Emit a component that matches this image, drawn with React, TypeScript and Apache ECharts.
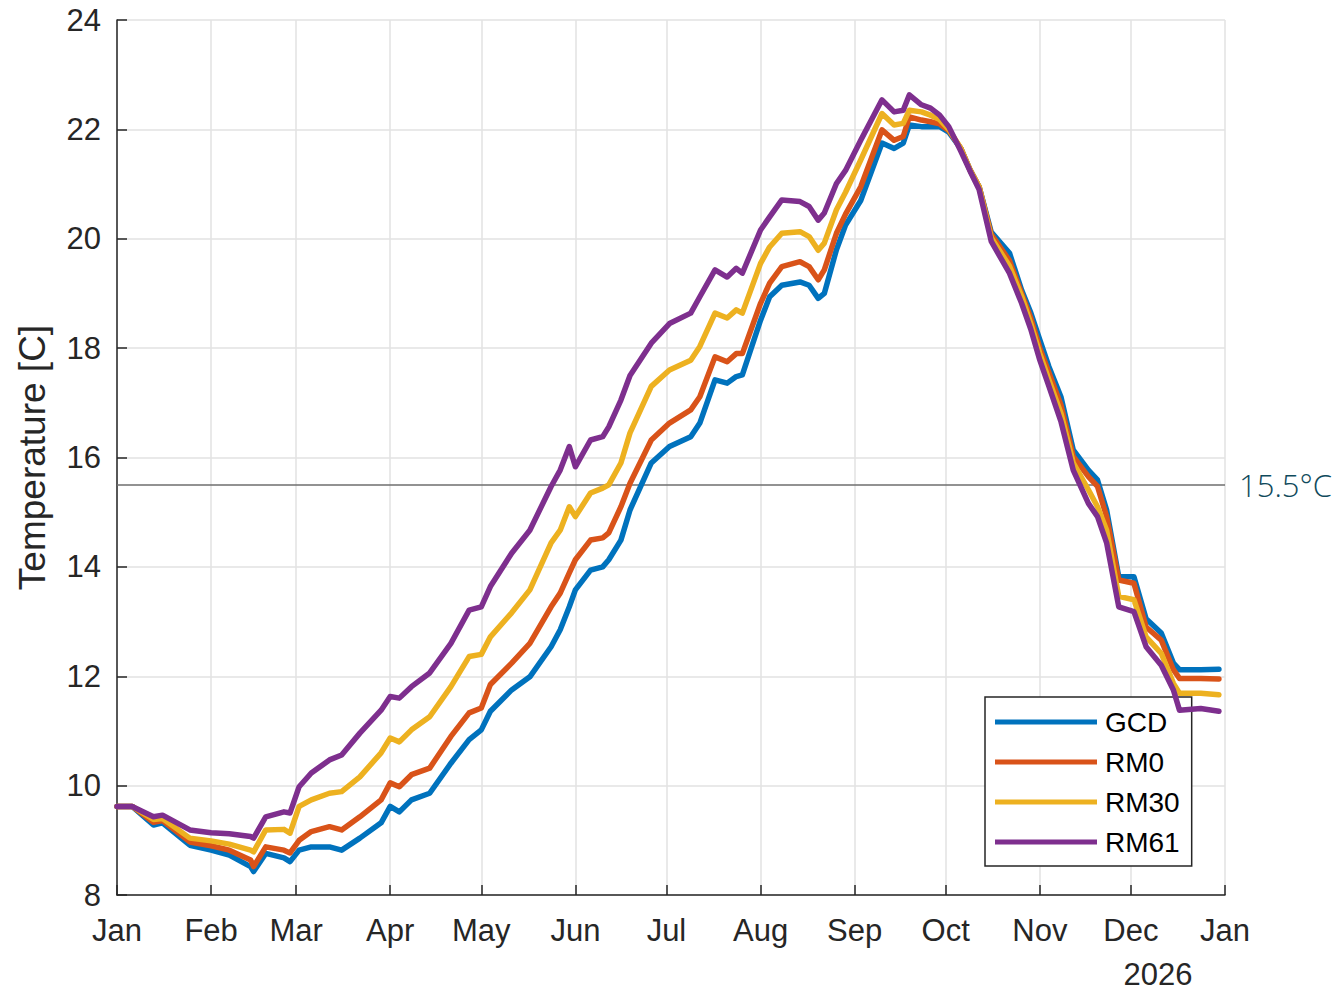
import React, { useEffect, useRef } from "react";
import * as echarts from "echarts";

const days = [0,5,12,15,24,31,37,44,45,49,55,57,60,64,70,74,80,87,90,93,97,103,110,116,120,123,130,136,143,146,149,151,156,160,162,166,169,176,182,189,192,197,201,204,206,212,215,219,225,228,231,233,237,240,245,252,256,259,261,265,268,271,274,278,281,284,288,294,298,301,304,307,311,315,320,323,326,330,335,339,344,348,350,357,363];

const gcd = [9.62,9.62,9.28,9.32,8.91,8.82,8.73,8.52,8.43,8.76,8.68,8.61,8.82,8.88,8.88,8.82,9.04,9.32,9.62,9.52,9.74,9.86,10.41,10.84,11.02,11.36,11.75,11.99,12.54,12.85,13.27,13.58,13.94,14.0,14.13,14.49,15.04,15.9,16.2,16.38,16.63,17.42,17.36,17.48,17.51,18.51,18.94,19.15,19.21,19.15,18.91,19.0,19.8,20.25,20.7,21.75,21.65,21.75,22.08,22.05,22.05,22.05,21.95,21.65,21.26,20.95,20.12,19.74,19.06,18.65,18.15,17.66,17.1,16.14,15.77,15.59,15.04,13.82,13.82,13.05,12.79,12.24,12.12,12.12,12.13];
const rm0 = [9.62,9.62,9.33,9.36,8.97,8.9,8.82,8.64,8.52,8.88,8.82,8.77,9.0,9.16,9.25,9.19,9.43,9.74,10.05,9.98,10.2,10.32,10.9,11.33,11.42,11.85,12.24,12.6,13.27,13.52,13.89,14.13,14.49,14.53,14.62,15.1,15.53,16.32,16.63,16.87,17.11,17.84,17.75,17.9,17.9,18.82,19.19,19.49,19.58,19.49,19.25,19.43,20.1,20.45,20.95,21.99,21.8,21.87,22.23,22.17,22.14,22.1,21.98,21.65,21.26,20.95,20.08,19.6,19.0,18.55,18.0,17.55,16.95,16.02,15.65,15.47,14.92,13.76,13.7,12.9,12.66,12.12,11.96,11.96,11.95];
const rm30 = [9.62,9.62,9.38,9.4,9.04,8.99,8.93,8.82,8.79,9.19,9.2,9.13,9.62,9.74,9.86,9.89,10.16,10.6,10.87,10.8,11.02,11.26,11.81,12.36,12.4,12.72,13.16,13.58,14.44,14.67,15.1,14.92,15.35,15.44,15.5,15.9,16.45,17.3,17.6,17.78,18.03,18.64,18.55,18.7,18.64,19.55,19.85,20.1,20.13,20.04,19.79,19.92,20.53,20.85,21.44,22.29,22.08,22.11,22.35,22.32,22.26,22.18,22.0,21.65,21.26,20.95,20.02,19.5,18.95,18.45,17.9,17.42,16.8,15.9,15.41,15.1,14.67,13.46,13.4,12.72,12.42,11.87,11.69,11.69,11.66];
const rm61 = [9.62,9.62,9.43,9.46,9.19,9.14,9.12,9.07,9.04,9.43,9.52,9.5,9.98,10.23,10.47,10.56,10.96,11.38,11.63,11.6,11.81,12.06,12.6,13.21,13.27,13.64,14.25,14.67,15.47,15.77,16.2,15.83,16.32,16.38,16.56,17.05,17.5,18.09,18.45,18.64,18.94,19.43,19.3,19.46,19.37,20.16,20.4,20.71,20.68,20.59,20.34,20.47,21.01,21.25,21.8,22.54,22.32,22.35,22.63,22.45,22.39,22.26,22.05,21.6,21.24,20.9,19.95,19.37,18.82,18.35,17.78,17.3,16.65,15.77,15.16,14.92,14.44,13.27,13.18,12.54,12.2,11.75,11.38,11.41,11.36];

const seriesNames = ["GCD", "RM0", "RM30", "RM61"];
const seriesValues = [gcd, rm0, rm30, rm61];
const seriesColors = ["#0072BD", "#D95319", "#EDB120", "#7E2F8E"];

const monthStarts = [0, 31, 59, 90, 120, 151, 181, 212, 243, 273, 304, 334, 365];
const monthLabels = ["Jan", "Feb", "Mar", "Apr", "May", "Jun", "Jul", "Aug", "Sep", "Oct", "Nov", "Dec", "Jan"];
const thresholdValue = 15.5;
const thresholdLabel = "15.5°C";
const yearLabel = "2026";

const FONT = "'Liberation Sans', Arial, Helvetica, sans-serif";
const AXIS = "#262626";

export default function App() {
  const ref = useRef<HTMLDivElement>(null);
  useEffect(() => {
    if (!ref.current) return;
    const chart = echarts.init(ref.current, null, { renderer: "svg" });
    const series: any[] = seriesNames.map((name, si) => ({
      name,
      type: "line",
      showSymbol: false,
      symbol: "none",
      data: days.map((d, i) => [d, seriesValues[si][i]]),
      lineStyle: { color: seriesColors[si], width: 5.5, join: "round", cap: "round" },
      itemStyle: { color: seriesColors[si] },
      z: 3 + si,
    }));
    series[0].markLine = {
      silent: true,
      symbol: "none",
      lineStyle: { color: "#6e6e6e", width: 1.5, type: "solid" },
      label: {
        show: true,
        position: "end",
        distance: 14,
        formatter: thresholdLabel,
        color: "#0f4a5c",
        fontFamily: "'Open Sans', 'Noto Sans', sans-serif",
        fontWeight: 300,
        fontSize: 31,
      },
      data: [{ yAxis: thresholdValue }],
      z: 2,
    };
    chart.setOption({
      animation: false,
      backgroundColor: "#ffffff",
      textStyle: { fontFamily: FONT },
      grid: { left: 117, right: 117, top: 20, bottom: 98, outerBoundsMode: "none", containLabel: false },
      legend: {
        data: seriesNames,
        orient: "vertical",
        left: 985,
        top: 697,
        icon: "rect",
        itemWidth: 102,
        itemHeight: 5,
        itemGap: 12,
        padding: [11, 12, 10, 10],
        backgroundColor: "#ffffff",
        borderColor: AXIS,
        borderWidth: 1.5,
        borderRadius: 0,
        selectedMode: false,
        textStyle: { fontSize: 28, color: "#000000", fontFamily: FONT, lineHeight: 28, padding: [0, 0, 0, 3] },
      },
      xAxis: {
        type: "value",
        min: 0,
        max: 365,
        axisLine: { show: true, onZero: false, lineStyle: { color: AXIS, width: 1.5 } },
        axisTick: { show: true, inside: true, length: 10, customValues: monthStarts, lineStyle: { color: AXIS, width: 1.5 } },
        axisLabel: {
          customValues: monthStarts,
          formatter: (v: number) => monthLabels[monthStarts.indexOf(Math.round(v))] ?? "",
          fontSize: 31,
          color: AXIS,
          fontFamily: FONT,
          margin: 20,
        },
        splitLine: { show: true, lineStyle: { color: "#e2e2e2", width: 1.5 } },
      },
      yAxis: {
        type: "value",
        min: 8,
        max: 24,
        interval: 2,
        name: "Temperature [C]",
        nameLocation: "middle",
        nameGap: 66,
        nameRotate: 90,
        nameTextStyle: { fontSize: 37, color: AXIS, fontFamily: FONT },
        axisLine: { show: true, lineStyle: { color: AXIS, width: 1.5 } },
        axisTick: { show: true, inside: true, length: 10, lineStyle: { color: AXIS, width: 1.5 } },
        axisLabel: { fontSize: 31, color: AXIS, fontFamily: FONT, margin: 16 },
        splitLine: { show: true, lineStyle: { color: "#e2e2e2", width: 1.5 } },
      },
      graphic: [
        {
          type: "text",
          x: 1158,
          y: 959,
          style: { text: yearLabel, fontSize: 31, fill: AXIS, fontFamily: FONT, textAlign: "center", textVerticalAlign: "top" },
        },
      ],
      series,
    });
    return () => chart.dispose();
  }, []);
  return <div ref={ref} style={{ position: "fixed", left: 0, top: 0, width: 1342, height: 993 }} />;
}
